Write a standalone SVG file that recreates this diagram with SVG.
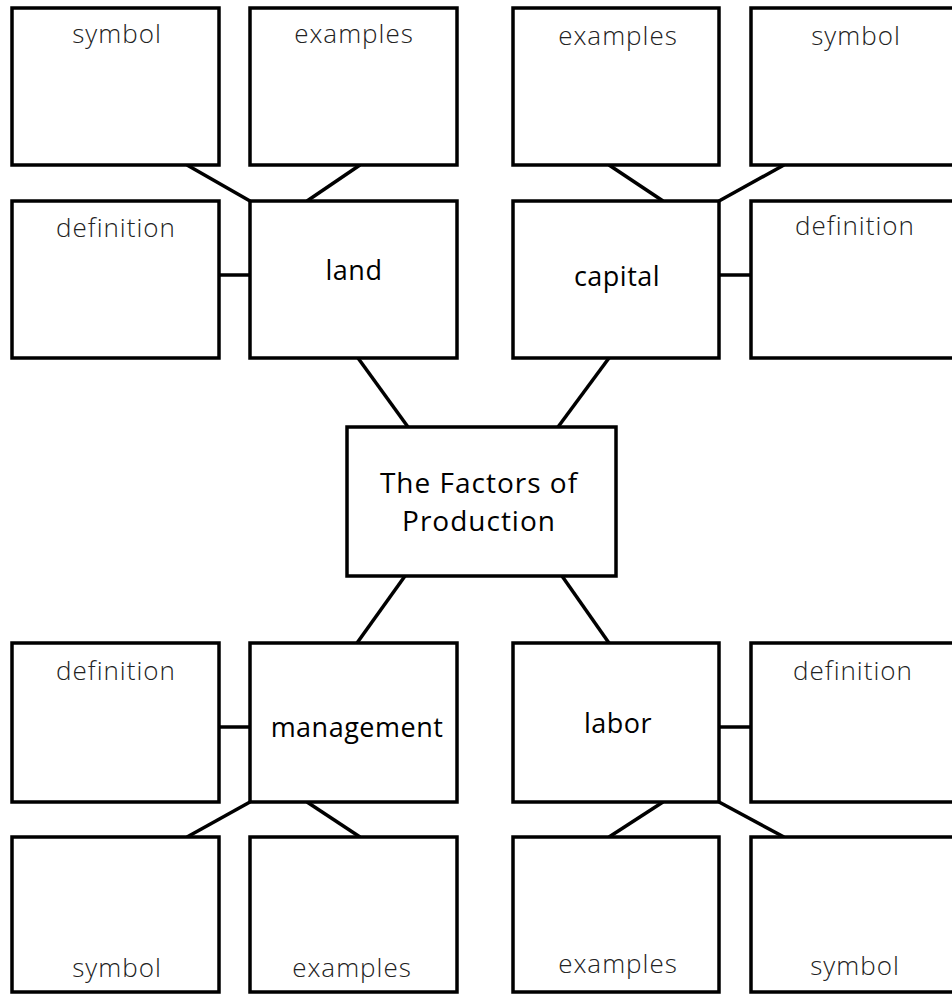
<svg xmlns="http://www.w3.org/2000/svg" width="952" height="994" viewBox="0 0 952 994">
<style>
.box{fill:#fff;stroke:#000;stroke-width:3.5}
.con line{stroke:#000;stroke-width:3.5;fill:none}
.lbl{font-family:"Open Sans","Liberation Sans",sans-serif;font-size:26px;fill:#222;text-anchor:middle;font-weight:300;letter-spacing:1px}
.main{font-family:"Open Sans","Liberation Sans",sans-serif;font-size:27px;fill:#000;text-anchor:middle;letter-spacing:0.5px}
.ctr{font-family:"Open Sans","Liberation Sans",sans-serif;font-size:28px;fill:#000;text-anchor:middle;letter-spacing:1px}
</style>
<rect width="952" height="994" fill="#fff"/>
<g class="con">
<line x1="187" y1="165" x2="250" y2="201"/>
<line x1="360" y1="165" x2="307" y2="201"/>
<line x1="219" y1="275" x2="250" y2="275"/>
<line x1="609" y1="165" x2="663" y2="201"/>
<line x1="784" y1="165" x2="719" y2="201"/>
<line x1="719" y1="275" x2="751" y2="275"/>
<line x1="358" y1="358" x2="408" y2="427"/>
<line x1="609" y1="358" x2="558" y2="427"/>
<line x1="405" y1="576" x2="357" y2="643"/>
<line x1="562" y1="576" x2="609" y2="643"/>
<line x1="219" y1="727" x2="250" y2="727"/>
<line x1="250" y1="802" x2="187" y2="837"/>
<line x1="307" y1="802" x2="360" y2="837"/>
<line x1="719" y1="727" x2="751" y2="727"/>
<line x1="663" y1="802" x2="609" y2="837"/>
<line x1="719" y1="802" x2="784" y2="837"/>
</g>
<g id="center"><rect class="box" x="347" y="427" width="269" height="149"/><text class="ctr" x="479" y="493">The Factors of</text><text class="ctr" x="479" y="531">Production</text></g>
<g id="land"><rect class="box" x="250" y="201" width="207" height="157"/><text class="main" x="354" y="280">land</text></g>
<g id="land-symbol"><rect class="box" x="12" y="8" width="207" height="157"/><text class="lbl" x="117" y="43">symbol</text></g>
<g id="land-examples"><rect class="box" x="250" y="8" width="207" height="157"/><text class="lbl" x="354" y="43">examples</text></g>
<g id="land-definition"><rect class="box" x="12" y="201" width="207" height="157"/><text class="lbl" x="116" y="237">definition</text></g>
<g id="capital"><rect class="box" x="513" y="201" width="206" height="157"/><text class="main" x="617" y="286">capital</text></g>
<g id="capital-examples"><rect class="box" x="513" y="8" width="206" height="157"/><text class="lbl" x="618" y="45">examples</text></g>
<g id="capital-symbol"><rect class="box" x="751" y="8" width="207" height="157"/><text class="lbl" x="856" y="45">symbol</text></g>
<g id="capital-definition"><rect class="box" x="751" y="201" width="207" height="157"/><text class="lbl" x="855" y="235">definition</text></g>
<g id="management"><rect class="box" x="250" y="643" width="207" height="159"/><text class="main" x="357" y="737">management</text></g>
<g id="management-definition"><rect class="box" x="12" y="643" width="207" height="159"/><text class="lbl" x="116" y="680">definition</text></g>
<g id="management-symbol"><rect class="box" x="12" y="837" width="207" height="155"/><text class="lbl" x="117" y="977">symbol</text></g>
<g id="management-examples"><rect class="box" x="250" y="837" width="207" height="155"/><text class="lbl" x="352" y="977">examples</text></g>
<g id="labor"><rect class="box" x="513" y="643" width="206" height="159"/><text class="main" x="618" y="733">labor</text></g>
<g id="labor-definition"><rect class="box" x="751" y="643" width="207" height="159"/><text class="lbl" x="853" y="680">definition</text></g>
<g id="labor-examples"><rect class="box" x="513" y="837" width="206" height="155"/><text class="lbl" x="618" y="973">examples</text></g>
<g id="labor-symbol"><rect class="box" x="751" y="837" width="207" height="155"/><text class="lbl" x="855" y="975">symbol</text></g>
</svg>
